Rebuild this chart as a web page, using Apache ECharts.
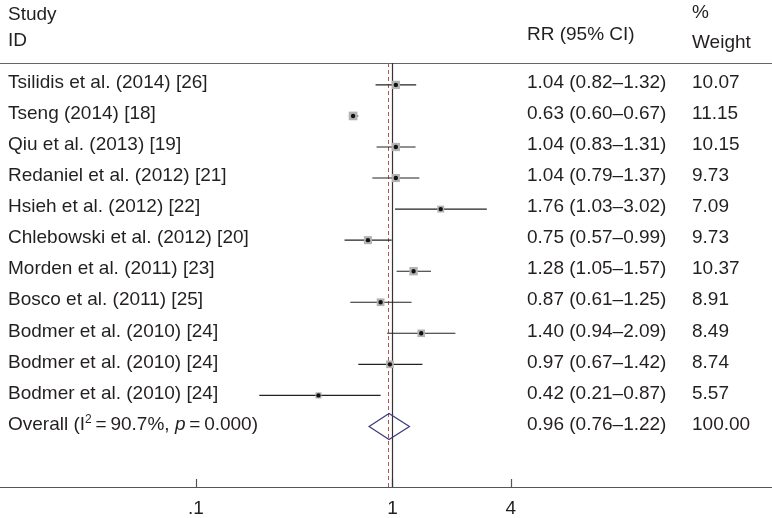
<!DOCTYPE html>
<html><head><meta charset="utf-8">
<script src="https://cdn.jsdelivr.net/npm/echarts@6/dist/echarts.min.js"></script>
<style>html,body{margin:0;padding:0;background:#fff}#c{width:772px;height:518px}</style>
</head><body><div id="c"></div>
<script>
const studies = [
  'Tsilidis et al. (2014) [26]',
  'Tseng (2014) [18]',
  'Qiu et al. (2013) [19]',
  'Redaniel et al. (2012) [21]',
  'Hsieh et al. (2012) [22]',
  'Chlebowski et al. (2012) [20]',
  'Morden et al. (2011) [23]',
  'Bosco et al. (2011) [25]',
  'Bodmer et al. (2010) [24]',
  'Bodmer et al. (2010) [24]',
  'Bodmer et al. (2010) [24]'
];
const rr     = [1.04, 0.63, 1.04, 1.04, 1.76, 0.75, 1.28, 0.87, 1.40, 0.97, 0.42];
const lower  = [0.82, 0.60, 0.83, 0.79, 1.03, 0.57, 1.05, 0.61, 0.94, 0.67, 0.21];
const upper  = [1.32, 0.67, 1.31, 1.37, 3.02, 0.99, 1.57, 1.25, 2.09, 1.42, 0.87];
const weights = [10.07, 11.15, 10.15, 9.73, 7.09, 9.73, 10.37, 8.91, 8.49, 8.74, 5.57];
const overallRR = 0.96, overallLower = 0.76, overallUpper = 1.22, overallWeight = 100.00;
const overallI2 = '90.7%', overallP = '0.000';
const tickValues = [0.1, 1, 4];
const tickLabels = ['.1', '1', '4'];

const FONT = '"Liberation Sans", Arial, Helvetica, sans-serif';
const FS = 19;
const TXT = '#231f20';
const lg = v => Math.log10(v);
const fmt2 = v => v.toFixed(2);

const chart = echarts.init(document.getElementById('c'), null, {renderer: 'canvas'});

const studyData = rr.map((v, i) => [lg(v), lg(lower[i]), lg(upper[i]), weights[i], i]);
const nRows = studies.length;
const textData = studies.map((s, i) => [i]).concat([[nRows]]);

const xMin = -392.5 / 196.5, xMax = (772 - 392.5) / 196.5;

chart.setOption({
  animation: false,
  backgroundColor: '#fff',
  grid: {left: 0, right: 0, top: 63, bottom: 29, containLabel: false},
  xAxis: [{
    type: 'value', position: 'bottom', min: xMin, max: xMax,
    splitLine: {show: false},
    axisLine: {show: true, onZero: false, lineStyle: {color: '#555', width: 1.2}},
    axisTick: {show: true, inside: true, length: 8, customValues: tickValues.map(lg), lineStyle: {color: '#555', width: 1.2}},
    axisLabel: {show: true, customValues: tickValues.map(lg), margin: 12,
      fontFamily: FONT, fontSize: FS, color: TXT,
      formatter: v => { const k = tickValues.findIndex(t => Math.abs(lg(t) - v) < 1e-6); return k >= 0 ? tickLabels[k] : ''; }}
  }, {
    type: 'value', position: 'top', min: xMin, max: xMax,
    splitLine: {show: false},
    axisLine: {show: true, onZero: false, lineStyle: {color: '#666', width: 1.2}},
    axisTick: {show: false}, axisLabel: {show: false}
  }],
  yAxis: {type: 'value', inverse: true, min: -0.705, max: 12.95, show: false},
  series: [
    {
      type: 'custom', name: 'studies', xAxisIndex: 0, data: studyData, z: 5,
      renderItem: (params, api) => {
        const y = api.coord([0, api.value(4)])[1];
        const xc = api.coord([api.value(0), 0])[0];
        const xl = api.coord([api.value(1), 0])[0];
        const xh = api.coord([api.value(2), 0])[0];
        const s = 2.6 * Math.sqrt(api.value(3));
        return {type: 'group', children: [
          {type: 'line', shape: {x1: xl, y1: y, x2: xh, y2: y}, style: {stroke: '#222', lineWidth: 1.1}},
          {type: 'rect', shape: {x: xc - s / 2, y: y - s / 2, width: s, height: s}, style: {fill: '#b3b3b3'}},
          {type: 'circle', shape: {cx: xc, cy: y, r: 2.2}, style: {fill: '#111'}}
        ]};
      },
      markLine: {
        silent: true, symbol: 'none', label: {show: false},
        data: [
          {xAxis: 0, lineStyle: {color: '#333', width: 1.2, type: 'solid'}},
          {xAxis: lg(overallRR), lineStyle: {color: '#c0504d', width: 1, type: [4, 3]}}
        ]
      }
    },
    {
      type: 'custom', name: 'overall', data: [[lg(overallRR), lg(overallLower), lg(overallUpper), nRows]], z: 6,
      renderItem: (params, api) => {
        const y = api.coord([0, api.value(3)])[1];
        const xc = api.coord([api.value(0), 0])[0];
        const xl = api.coord([api.value(1), 0])[0];
        const xh = api.coord([api.value(2), 0])[0];
        const h = 13;
        return {type: 'polygon', shape: {points: [[xl, y], [xc, y - h], [xh, y], [xc, y + h]]},
          style: {fill: 'rgba(0,0,0,0)', stroke: '#3b3b7a', lineWidth: 1.2}};
      }
    },
    {
      type: 'custom', name: 'texts', data: textData, z: 7,
      renderItem: (params, api) => {
        const i = api.value(0);
        const y = api.coord([0, i])[1] - 2;
        const isOverall = i === nRows;
        const base = {font: FS + 'px ' + FONT, fill: TXT, verticalAlign: 'middle', align: 'left'};
        const left = isOverall
          ? {type: 'text', x: 8, y: y, style: Object.assign({}, base, {
              text: '{n|Overall (I}{s|2}{n|\u2009=\u2009' + overallI2 + ', }{i|p}{n|\u2009=\u2009' + overallP + ')}',
              rich: {
                n: {fontSize: FS, fontFamily: FONT, color: TXT, lineHeight: 22},
                s: {fontSize: 12, fontFamily: FONT, color: TXT, verticalAlign: 'top', lineHeight: 22},
                i: {fontSize: FS, fontFamily: FONT, color: TXT, fontStyle: 'italic', lineHeight: 22}
              }})}
          : {type: 'text', x: 8, y: y, style: Object.assign({}, base, {text: studies[i]})};
        const r = isOverall ? overallRR : rr[i];
        const lo = isOverall ? overallLower : lower[i];
        const hi = isOverall ? overallUpper : upper[i];
        const w = isOverall ? overallWeight : weights[i];
        return {type: 'group', children: [
          left,
          {type: 'text', x: 527, y: y, style: Object.assign({}, base, {text: fmt2(r) + ' (' + fmt2(lo) + '\u2013' + fmt2(hi) + ')'})},
          {type: 'text', x: 692, y: y, style: Object.assign({}, base, {text: fmt2(w)})}
        ]};
      }
    }
  ],
  graphic: [
    {type: 'text', left: 8, top: 5, style: {text: 'Study', font: FS + 'px ' + FONT, fill: TXT}},
    {type: 'text', left: 8, top: 31, style: {text: 'ID', font: FS + 'px ' + FONT, fill: TXT}},
    {type: 'text', left: 527, top: 25, style: {text: 'RR (95% CI)', font: FS + 'px ' + FONT, fill: TXT}},
    {type: 'text', left: 692, top: 3, style: {text: '%', font: FS + 'px ' + FONT, fill: TXT}},
    {type: 'text', left: 692, top: 33, style: {text: 'Weight', font: FS + 'px ' + FONT, fill: TXT}}
  ]
});
</script></body></html>
